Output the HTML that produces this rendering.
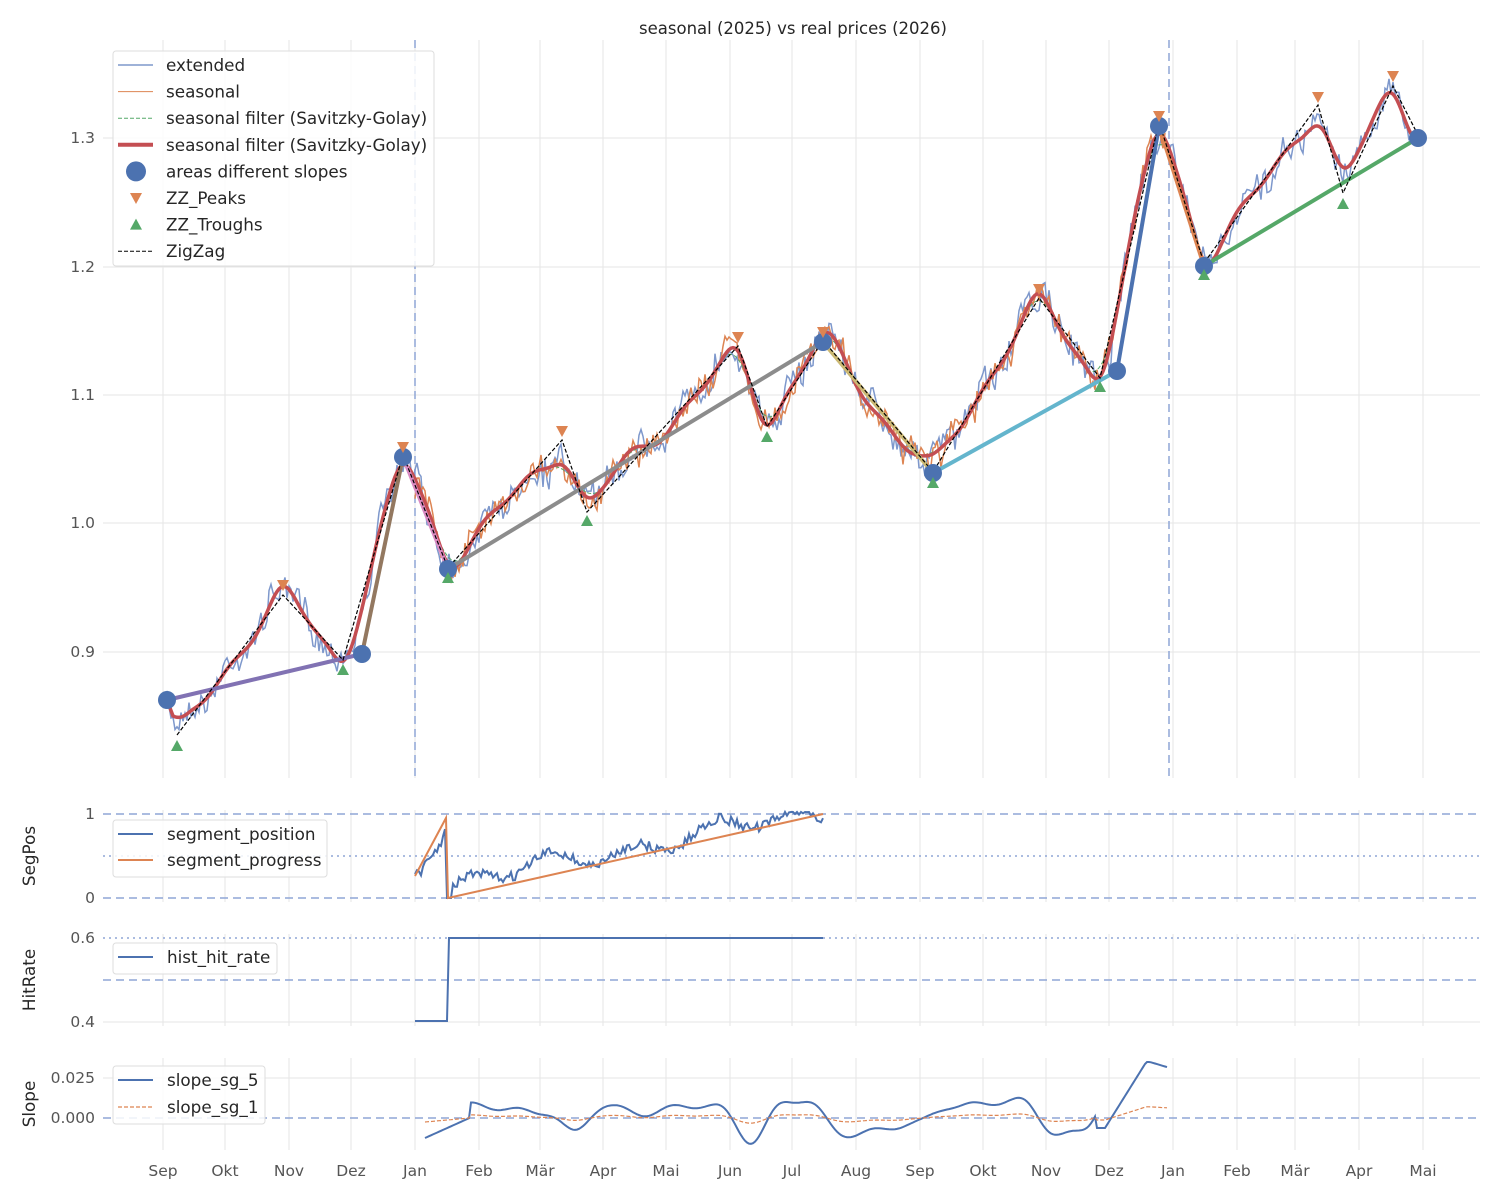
<!DOCTYPE html>
<html><head><meta charset="utf-8"><style>
body{margin:0;background:#fff}
svg{display:block;font-family:"DejaVu Sans","Liberation Sans",sans-serif}
.t{fill:#555;font-size:15.5px}
.l{fill:#262626;font-size:16.8px}
</style></head><body>
<svg id="s" width="1500" height="1200" xmlns="http://www.w3.org/2000/svg"></svg>
<script>
const S=document.getElementById('s');let H='';
const months=[['Sep',163],['Okt',225],['Nov',289],['Dez',351],['Jan',415],['Feb',479],['Mär',540],['Apr',603],['Mai',666],['Jun',730],['Jul',792],['Aug',856],['Sep',920],['Okt',983],['Nov',1046],['Dez',1109],['Jan',1173],['Feb',1237],['Mär',1295],['Apr',1359],['Mai',1423]];
const G='#e5e5e5';
function vgrid(y1,y2){months.forEach(m=>H+=`<line x1="${m[1]}" y1="${y1}" x2="${m[1]}" y2="${y2}" stroke="${G}"/>`);}
function hl(y,c,dash,w){H+=`<line x1="103" y1="${y}" x2="1480" y2="${y}" stroke="${c}" stroke-width="${w||1}" ${dash?`stroke-dasharray="${dash}"`:''}/>`;}
vgrid(40,778);
[[1.3,138],[1.2,267],[1.1,395],[1.0,523],[0.9,652]].forEach(a=>{hl(a[1],G);H+=`<text class="t" x="95" y="${a[1]+5}" text-anchor="end">${a[0].toFixed(1)}</text>`});
vgrid(810,902);vgrid(934,1026);vgrid(1058,1150);
hl(1022,G);hl(1078,G);
[['1',814],['0',898],['0.6',938],['0.4',1022],['0.025',1078],['0.000',1118]].forEach(a=>H+=`<text class="t" x="95" y="${a[1]+5}" text-anchor="end">${a[0]}</text>`);
const SB='#8fa6d6';
hl(814,SB,'8,5',1.5);hl(898,SB,'8,5',1.5);hl(856,SB,'2,4',1.5);
hl(938,SB,'2,4',1.5);hl(980,SB,'8,5',1.5);hl(1118,SB,'8,5',1.5);
months.forEach(m=>H+=`<text class="t" x="${m[1]}" y="1176" text-anchor="middle">${m[0]}</text>`);
H+=`<text x="793" y="34" text-anchor="middle" style="font-size:16.5px;fill:#262626">seasonal (2025) vs real prices (2026)</text>`;
[['SegPos',856],['HitRate',980],['Slope',1104]].forEach(a=>H+=`<text transform="translate(35,${a[1]}) rotate(-90)" text-anchor="middle" style="font-size:16.8px;fill:#262626">${a[0]}</text>`);
H+=`<line x1="415" y1="40" x2="415" y2="778" stroke="${SB}" stroke-width="1.5" stroke-dasharray="8,5"/><line x1="1169" y1="40" x2="1169" y2="778" stroke="${SB}" stroke-width="1.5" stroke-dasharray="8,5"/>`;
let seed=7;function R(){seed=(seed*16807)%2147483647;return seed/2147483647;}
const zz=[[177,735],[283,595],[343,660],[403,455],[448,568],[562,440],[587,512],[738,346],[767,427],[823,340],[933,472],[1039,298],[1100,378],[1159,122],[1204,263],[1318,105],[1343,193],[1393,86],[1418,135]];
const sp=[[167,700]].concat(zz);
function ip(p,x){for(let i=0;i<p.length-1;i++){if(x<=p[i+1][0]){const t=(x-p[i][0])/(p[i+1][0]-p[i][0]);return p[i][1]+t*(p[i+1][1]-p[i][1]);}}return p[p.length-1][1];}
const X0=167,X1=1418,N=X1-X0+1;
let base=[];for(let i=0;i<N;i++){const x=X0+i;base.push(ip(sp,x)+9*Math.sin(x/17)+6*Math.sin(x/8+1)+5*Math.sin(x/29+2));}
function ma(a,w){return a.map((v,i)=>{let s=0,c=0;for(let j=i-w;j<=i+w;j++)if(j>=0&&j<a.length){s+=a[j];c++}return s/c;});}
let red=ma(ma(base,8),6);red[0]=700;for(let i=1;i<6;i++)red[i]=700+(red[6]-700)*i/6;
function noise(a,amp){let n=[],v=0;for(let i=0;i<N;i++){v=0.4*v+(R()-0.5)*amp;n.push(v)}return a.map((y,i)=>y+n[i]+5*Math.sin(i/6+amp));}
const blue=noise(red,26),ora=noise(red,24),grn=ma(base,16);
function path(a,from,to,st){let d='';for(let x=from;x<=to;x+=2){d+=(d?'L':'M')+x+','+a[x-X0].toFixed(1);}H+=`<path d="${d}" fill="none" ${st}/>`;}
path(blue,X0,X1,'stroke="#7e98cc" stroke-width="1.5"');
path(ora,415,1165,'stroke="#dd8452" stroke-width="1.5"');
path(grn,415,1170,'stroke="#55a868" stroke-width="1" stroke-dasharray="4,2"');
path(red,X0,X1,'stroke="#c44e52" stroke-width="3.5"');
const dots=[[167,700],[362,654],[403,457],[448,569],[823,342],[933,473],[1117,371],[1159,126],[1204,266],[1418,138]];
const cols=['#8172b3','#937860','#da8bc3','#8c8c8c','#ccb974','#64b5cd','#4c72b0','#dd8452','#55a868'];
for(let i=0;i<9;i++)H+=`<line x1="${dots[i][0]}" y1="${dots[i][1]}" x2="${dots[i+1][0]}" y2="${dots[i+1][1]}" stroke="${cols[i]}" stroke-width="4"/>`;
H+=`<polyline points="${zz.map(p=>p.join(',')).join(' ')}" fill="none" stroke="#000" stroke-width="1.2" stroke-dasharray="4,2"/>`;
dots.forEach(d=>H+=`<circle cx="${d[0]}" cy="${d[1]}" r="9" fill="#4c72b0"/>`);
const pk=[[283,585],[403,447],[562,431],[738,337],[823,332],[1039,289],[1159,116],[1318,97],[1393,76]];
const tr=[[177,746],[343,670],[448,578],[587,521],[767,437],[933,483],[1100,387],[1204,275],[1343,204]];
pk.forEach(p=>H+=`<polygon points="${p[0]-6},${p[1]-5} ${p[0]+6},${p[1]-5} ${p[0]},${p[1]+6}" fill="#dd8452"/>`);
tr.forEach(p=>H+=`<polygon points="${p[0]-6},${p[1]+5} ${p[0]+6},${p[1]+5} ${p[0]},${p[1]-6}" fill="#55a868"/>`);
let sd='';for(let x=415;x<=823;x+=2){let y;if(x<447)y=868-(x-415)*1.4;else{const t=(x-448)/375;y=885-t*75;}y+=(R()-0.5)*10+8*Math.sin(x/13)+5*Math.sin(x/31);if(x>=447&&x<452)y=898;y=Math.max(812,Math.min(898,y));sd+=(sd?'L':'M')+x+','+y.toFixed(1);}
H+=`<path d="${sd}" fill="none" stroke="#4c72b0" stroke-width="2"/>`;
H+=`<polyline points="415,876 446,818 448,898 823,814" fill="none" stroke="#dd8452" stroke-width="2"/>`;
H+=`<polyline points="415,1021 447,1021 449,938 823,938" fill="none" stroke="#4c72b0" stroke-width="2"/>`;
let d5='',d1='';
for(let x=425;x<=1168;x+=2){const i=x-X0;const dr=(red[Math.max(0,i-12)]-red[Math.min(N-1,i+12)])/24;let v=dr*9;
if(x>1095){v=-10+Math.min(66,Math.max(0,(x-1105))*1.6);if(x>1125)v=Math.min(56,v);v=-10+ (x<1105?0:0)+ (v+10);if(x>1150)v=56-(x-1150)*0.3;}
else if(x<470)v=-20+(x-425)*0.45;
const y5=Math.max(1058,Math.min(1145,1118-v));d5+=(d5?'L':'M')+x+','+y5.toFixed(1);const y1=1118-v*0.2;d1+=(d1?'L':'M')+x+','+y1.toFixed(1);}
H+=`<path d="${d5}" fill="none" stroke="#4c72b0" stroke-width="2"/><path d="${d1}" fill="none" stroke="#dd8452" stroke-width="1.2" stroke-dasharray="4,2"/>`;
function box(x,y,w,h){H+=`<rect x="${x}" y="${y}" width="${w}" height="${h}" rx="3" fill="#fff" fill-opacity="0.85" stroke="#ddd"/>`;}
box(113,51,321,215);
const L=[['extended','l','#7e98cc'],['seasonal','l','#dd8452',1],['seasonal filter (Savitzky-Golay)','d','#55a868'],['seasonal filter (Savitzky-Golay)','l','#c44e52',4],['areas different slopes','c'],['ZZ_Peaks','p'],['ZZ_Troughs','tr'],['ZigZag','d','#000']];
L.forEach((e,i)=>{const y=65+i*26.6;const k=e[1];
if(k=='l')H+=`<line x1="118" y1="${y}" x2="153" y2="${y}" stroke="${e[2]}" stroke-width="${e[3]||1.5}"/>`;
if(k=='d')H+=`<line x1="118" y1="${y}" x2="153" y2="${y}" stroke="${e[2]}" stroke-width="1" stroke-dasharray="4,2"/>`;
if(k=='c')H+=`<circle cx="136" cy="${y}" r="10" fill="#4c72b0"/>`;
if(k=='p')H+=`<polygon points="130,${y-5} 142,${y-5} 136,${y+6}" fill="#dd8452"/>`;
if(k=='tr')H+=`<polygon points="130,${y+5} 142,${y+5} 136,${y-6}" fill="#55a868"/>`;
H+=`<text class="l" x="166" y="${y+6}">${e[0]}</text>`;});
box(113,820,214,57);
H+=`<line x1="118" y1="834" x2="153" y2="834" stroke="#4c72b0" stroke-width="2"/><text class="l" x="167" y="840">segment_position</text><line x1="118" y1="860" x2="153" y2="860" stroke="#dd8452" stroke-width="2"/><text class="l" x="167" y="866">segment_progress</text>`;
box(113,943,164,31);
H+=`<line x1="118" y1="957" x2="153" y2="957" stroke="#4c72b0" stroke-width="2"/><text class="l" x="167" y="963">hist_hit_rate</text>`;
box(113,1066,152,58);
H+=`<line x1="118" y1="1080" x2="153" y2="1080" stroke="#4c72b0" stroke-width="2"/><text class="l" x="167" y="1086">slope_sg_5</text><line x1="118" y1="1107" x2="153" y2="1107" stroke="#dd8452" stroke-width="1.2" stroke-dasharray="4,2"/><text class="l" x="167" y="1113">slope_sg_1</text>`;
S.innerHTML=H;
</script>
</body></html>
